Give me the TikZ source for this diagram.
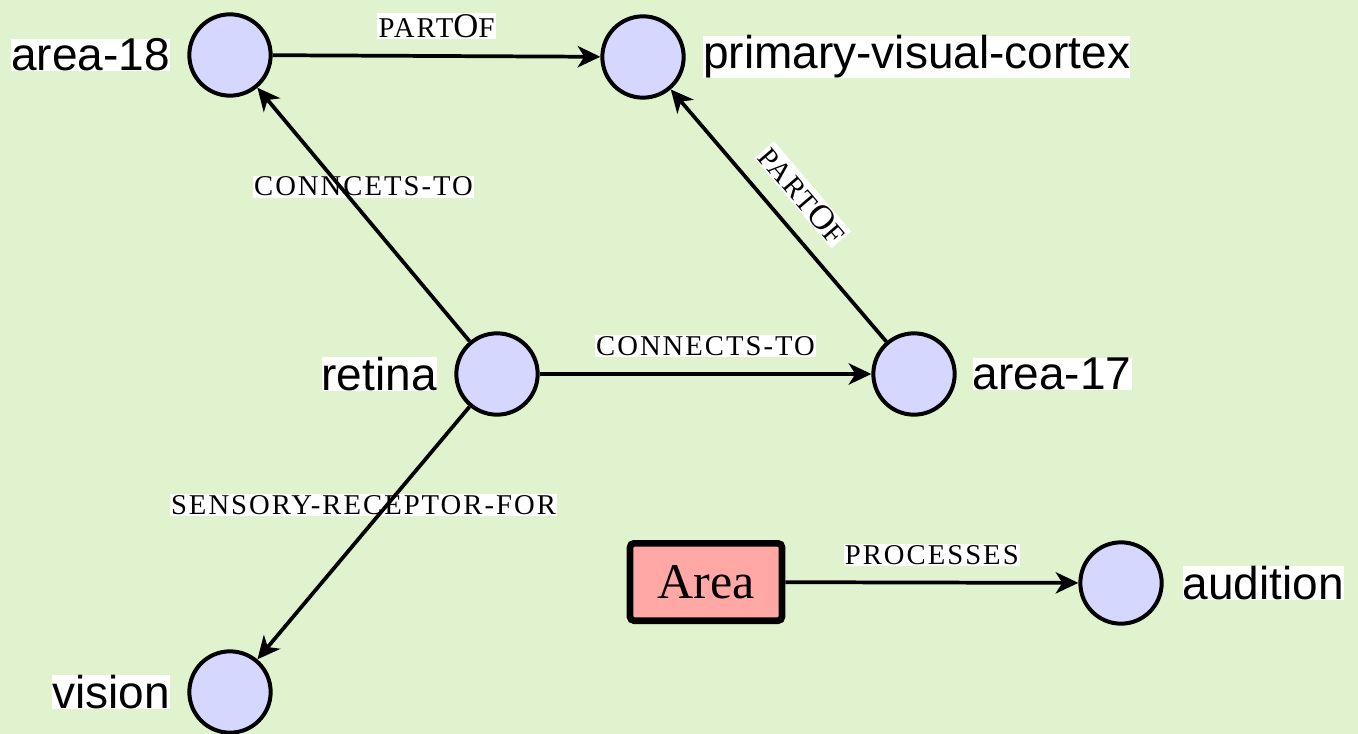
\documentclass[tikz,border=0pt]{standalone}
\usepackage{fontspec}
\setmainfont{Liberation Serif}
\newfontfamily\lblsans{Liberation Sans}
\newfontfamily\scfont[LetterSpace=7]{Liberation Serif}
\usetikzlibrary{arrows.meta,shapes.geometric}
\definecolor{bgc}{RGB}{224,242,206}
\definecolor{circc}{RGB}{213,215,255}
\definecolor{areac}{RGB}{255,168,165}
\newcommand\smc[1]{{\fontsize{21.5pt}{22pt}\scfont #1}}
\newcommand\bgc[1]{{\fontsize{26pt}{27pt}\scfont #1}}
\begin{document}
\begin{tikzpicture}[x=0.75pt,y=-0.75pt,
  concept/.style={circle, draw=black, line width=3pt, fill=circc, minimum size=61pt, inner sep=0pt},
  conceptlabel/.style={fill=white, inner sep=0pt, font=\lblsans\fontsize{34.5pt}{36pt}\selectfont},
  areabox/.style={rectangle, draw=black, line width=5pt, rounded corners=3pt, fill=areac,
    minimum width=114pt, minimum height=58pt, inner sep=0pt, font=\fontsize{37.5pt}{40pt}\selectfont},
  rel/.style={draw=black, line width=2.8pt, -{Stealth[length=17pt,width=16pt,inset=5pt]}},
  rlab/.style={fill=white, inner sep=1pt}]
\useasboundingbox (0,0) rectangle (1358,734);
\fill[bgc] (0,0) rectangle (1358,734);
\clip (0,0) rectangle (1358,734);
% concepts
\node[concept] (a18) at (230,55) {};
\node[concept] (pvc) at (643,57) {};
\node[concept] (ret) at (497,374) {};
\node[concept] (a17) at (914,374) {};
\node[concept] (vis) at (230,692) {};
\node[concept] (aud) at (1121,583) {};
\node[areabox] (area) at (706,582) {Area};
% concept labels
\node[conceptlabel, anchor=east] (a18l) at ([xshift=-13pt]a18.west) {area-18};
\node[conceptlabel, anchor=west] (pvcl) at ([xshift=13pt]pvc.east) {primary-visual-cortex};
\node[conceptlabel, anchor=east] (retl) at ([xshift=-13pt]ret.west) {retina};
\node[conceptlabel, anchor=west] (a17l) at ([xshift=12pt]a17.east) {area-17};
\node[conceptlabel, anchor=east] (visl) at ([xshift=-13pt]vis.west) {vision};
\node[conceptlabel, anchor=west] (audl) at ([xshift=14pt]aud.east) {audition};
% relation labels
\path (a18) -- (pvc) node[rlab, midway, above=12.5pt] (l1) {\smc{PART}\bgc{O}\smc{F}};
\path (ret) -- (a18) node[rlab, midway, above=12.5pt] (l2) {\smc{CONNCETS-TO}};
\path (a17) -- (pvc) node[rlab, midway, sloped, above=14pt] (l3) {\smc{PART}\bgc{O}\smc{F}};
\path (ret) -- (a17) node[rlab, midway, above=12.5pt] (l4) {\smc{CONNECTS-TO}};
\path (ret) -- (vis) node[rlab, midway, above=12.5pt] (l5) {\smc{SENSORY-RECEPTOR-FOR}};
\path (area) -- (aud) node[rlab, midway, above=12.5pt] (l6) {\smc{PROCESSES}};
% relations
\draw[rel] (a18) -- (pvc);
\draw[rel] (ret) -- (a18);
\draw[rel] (a17) -- (pvc);
\draw[rel] (ret) -- (a17);
\draw[rel] (ret) -- (vis);
\draw[rel] (area) -- (aud);
\end{tikzpicture}
\end{document}
